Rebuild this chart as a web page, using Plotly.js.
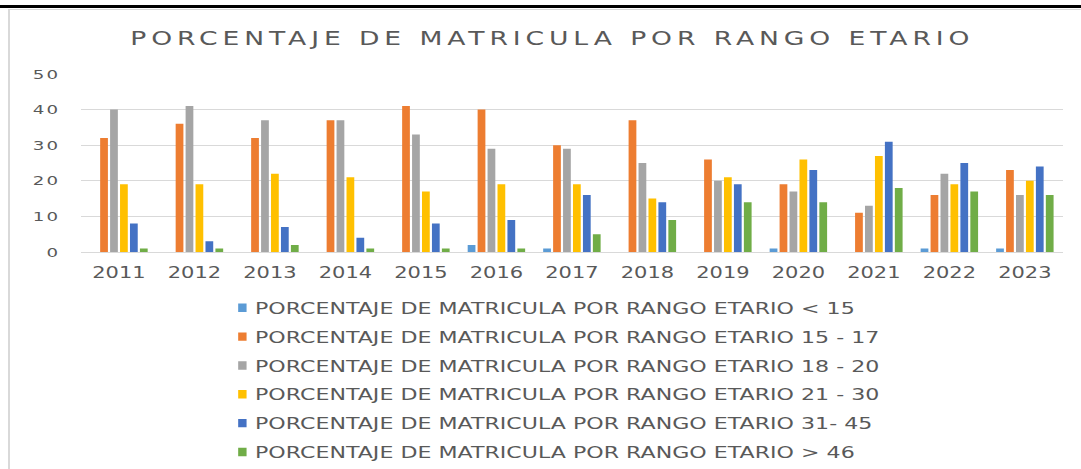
<!DOCTYPE html>
<html>
<head>
<meta charset="utf-8">
<script src="https://cdn.plot.ly/plotly-3.0.1.min.js"></script>
<style>
  html, body { margin: 0; padding: 0; background: #fff; }
  #wrap { position: relative; width: 1081px; height: 469px; overflow: hidden; background: #fff; }
  #topline { position: absolute; left: 0; top: 5px; width: 1081px; height: 3px; background: #000; }
  #frame { position: absolute; left: 8px; top: 9px; width: 1100px; height: 500px;
           border-left: 2px solid #d9d9d9; border-top: 1.5px solid #d9d9d9; }
  #chart { position: absolute; left: 0; top: 0; width: 772px; height: 469px;
           transform: scaleX(1.4); transform-origin: 0 0; }
  #chart .gtitle { letter-spacing: 3.5px; }
  #chart .ytick text { letter-spacing: 1.5px; }
  #chart .legendpoints path { transform: translate(31px, 0px) scale(0.5, 0.7); }
</style>
</head>
<body>
<div id="wrap">
  <div id="topline"></div>
  <div id="frame"></div>
  <div id="chart"></div>
</div>
<script>
// Categories
const years = ['2011','2012','2013','2014','2015','2016','2017','2018','2019','2020','2021','2022','2023'];

// Series names
const seriesNames = [
  'PORCENTAJE DE MATRICULA POR RANGO ETARIO < 15',
  'PORCENTAJE DE MATRICULA POR RANGO ETARIO 15 - 17',
  'PORCENTAJE DE MATRICULA POR RANGO ETARIO 18 - 20',
  'PORCENTAJE DE MATRICULA POR RANGO ETARIO 21 - 30',
  'PORCENTAJE DE MATRICULA POR RANGO ETARIO 31- 45',
  'PORCENTAJE DE MATRICULA POR RANGO ETARIO > 46'
];

// Series values
const lt15   = [0, 0, 0, 0, 0, 2, 1, 0, 0, 1, 0, 1, 1];
const r15_17 = [32, 36, 32, 37, 41, 40, 30, 37, 26, 19, 11, 16, 23];
const r18_20 = [40, 41, 37, 37, 33, 29, 29, 25, 20, 17, 13, 22, 16];
const r21_30 = [19, 19, 22, 21, 17, 19, 19, 15, 21, 26, 27, 19, 20];
const r31_45 = [8, 3, 7, 4, 8, 9, 16, 14, 19, 23, 31, 25, 24];
const gt46   = [1, 1, 2, 1, 1, 1, 5, 9, 14, 14, 18, 17, 16];

// Y tick values
const yTicks = [0, 10, 20, 30, 40, 50];

const seriesValues = [lt15, r15_17, r18_20, r21_30, r31_45, gt46];
const seriesColors = ['#5B9BD5', '#ED7D31', '#A5A5A5', '#FFC000', '#4472C4', '#70AD47'];

const textColor = '#595959';
const fontFam = 'DejaVu Sans, sans-serif';

const traces = seriesValues.map((vals, i) => ({
  type: 'bar',
  name: seriesNames[i],
  x: years,
  y: vals,
  legendgroup: 'g' + i,
  marker: { color: seriesColors[i], line: { width: 0 } },
  hoverinfo: 'skip'
}));

const layout = {
  width: 772,
  height: 469,
  autosize: false,
  margin: { l: 58, r: 13, t: 74, b: 217, pad: 0, autoexpand: false },
  paper_bgcolor: 'rgba(0,0,0,0)',
  plot_bgcolor: 'rgba(0,0,0,0)',
  barmode: 'group',
  bargap: 0.21,
  bargroupgap: 0.22,
  showlegend: true,
  hovermode: false,
  title: {
    text: 'PORCENTAJE DE MATRICULA POR RANGO ETARIO',
    font: { family: fontFam, size: 19, color: textColor },
    xref: 'container', x: 0.511, xanchor: 'center',
    yref: 'container', y: 0.919, yanchor: 'middle'
  },
  xaxis: {
    type: 'category',
    showgrid: false,
    showline: false,
    zeroline: false,
    ticks: '',
    tickfont: { family: fontFam, size: 15, color: textColor },
    ticklabelstandoff: 10,
    automargin: false
  },
  yaxis: {
    range: [0, 50],
    tickvals: yTicks,
    ticktext: yTicks.map(String),
    showgrid: true,
    gridcolor: '#d9d9d9',
    gridwidth: 1,
    zeroline: true,
    zerolinecolor: '#d9d9d9',
    zerolinewidth: 1,
    showline: false,
    ticks: '',
    tickfont: { family: fontFam, size: 13, color: textColor },
    ticklabelstandoff: 14,
    automargin: false,
    fixedrange: true
  },
  legend: {
    orientation: 'v',
    x: 0.12, xanchor: 'left',
    y: -0.219, yanchor: 'top',
    bgcolor: 'rgba(0,0,0,0)',
    font: { family: fontFam, size: 15.8, color: textColor },
    tracegroupgap: 5.3,
    traceorder: 'grouped'
  }
};

Plotly.newPlot('chart', traces, layout, { displayModeBar: false, staticPlot: true });
</script>
</body>
</html>
